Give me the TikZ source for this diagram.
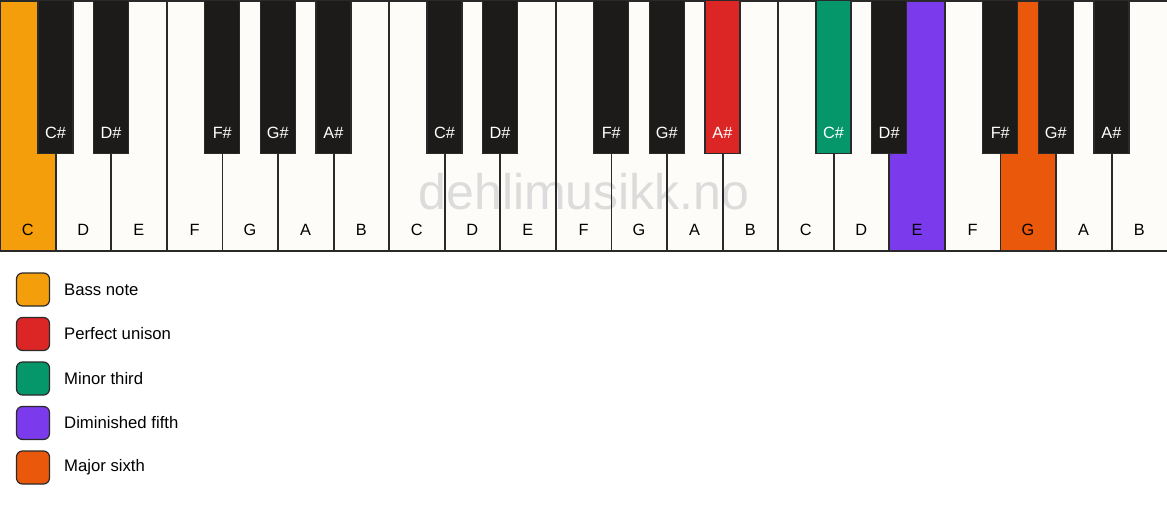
\documentclass[tikz,border=0pt]{standalone}
\usepackage{fontspec}
\setmainfont{Liberation Sans}
\definecolor{keywhite}{HTML}{FDFCF9}
\definecolor{keyblack}{HTML}{1C1B19}
\definecolor{edge}{HTML}{2A2A2A}
\definecolor{amberC}{HTML}{F59E0B}
\definecolor{redC}{HTML}{DC2626}
\definecolor{greenC}{HTML}{059669}
\definecolor{violetC}{HTML}{7C3AED}
\definecolor{orangeC}{HTML}{EA580C}
\definecolor{wmark}{HTML}{DCDCDC}
\tikzset{
  whitekey/.style={rectangle, draw=none, minimum width=55.571pt, minimum height=250pt, anchor=north west, inner sep=0pt},
  keyedge/.style={draw=edge, line width=1.5pt},
  blackkey/.style={rectangle, draw=edge, line width=1.2pt, minimum width=35pt, minimum height=153pt, anchor=north, inner sep=0pt},
  keylabel/.style={font=\fontsize{16.3}{18}\selectfont, inner sep=0pt},
  legendbox/.style={rectangle, draw=edge, line width=1.2pt, rounded corners=6pt, minimum size=33pt, inner sep=0pt},
  legendtext/.style={font=\fontsize{16.7}{18}\selectfont, anchor=west, inner sep=0pt},
}
\begin{document}
\begin{tikzpicture}[x=1pt, y=-1pt]
\useasboundingbox (0,0) rectangle (1167,506);
\fill[white] (0,0) rectangle (1167,506);
% white keys fill
\foreach \i/\f in {0/amberC,1/keywhite,2/keywhite,3/keywhite,4/keywhite,5/keywhite,6/keywhite,
                   7/keywhite,8/keywhite,9/keywhite,10/keywhite,11/keywhite,12/keywhite,13/keywhite,
                   14/keywhite,15/keywhite,16/violetC,17/keywhite,18/orangeC,19/keywhite,20/keywhite}
  \node[whitekey, fill=\f] (w\i) at ({\i*55.5714},0.75) {};
% watermark
\node[font=\fontsize{50}{52}\selectfont, text=wmark, inner sep=0pt] (wm) at (584,192) {dehlimusikk.no};
% white key borders
\foreach \i in {0,...,20}
  \draw[keyedge] (w\i.north west) rectangle (w\i.south east);
% white key labels
\foreach \i/\n in {0/C,1/D,2/E,3/F,4/G,5/A,6/B,7/C,8/D,9/E,10/F,11/G,12/A,13/B,
                   14/C,15/D,16/E,17/F,18/G,19/A,20/B}
  \node[keylabel] (wl\i) at ({(\i+0.5)*55.5714},230) {\n};
% black keys
\foreach \x/\n/\f/\t in {1/C\#/keyblack/white,2/D\#/keyblack/white,4/F\#/keyblack/white,5/G\#/keyblack/white,6/A\#/keyblack/white,
                         8/C\#/keyblack/white,9/D\#/keyblack/white,11/F\#/keyblack/white,12/G\#/keyblack/white,13/A\#/redC/white,
                         15/C\#/greenC/white,16/D\#/keyblack/white,18/F\#/keyblack/white,19/G\#/keyblack/white,20/A\#/keyblack/white}
{
  \node[blackkey, fill=\f] (b\x) at ({\x*55.5714},0) {};
  \node[keylabel, text=\t] (bl\x) at ({\x*55.5714},133) {\n};
}
% legend
\foreach \k/\f/\s/\y in {1/amberC/Bass note/289.5, 2/redC/Perfect unison/334, 3/greenC/Minor third/378.5,
                         4/violetC/Diminished fifth/423, 5/orangeC/Major sixth/467.5}
{
  \node[legendbox, fill=\f] (lg\k) at (33,\y) {};
  \node[legendtext] (lt\k) at (64,\y) {\s};
}
\end{tikzpicture}
\end{document}
